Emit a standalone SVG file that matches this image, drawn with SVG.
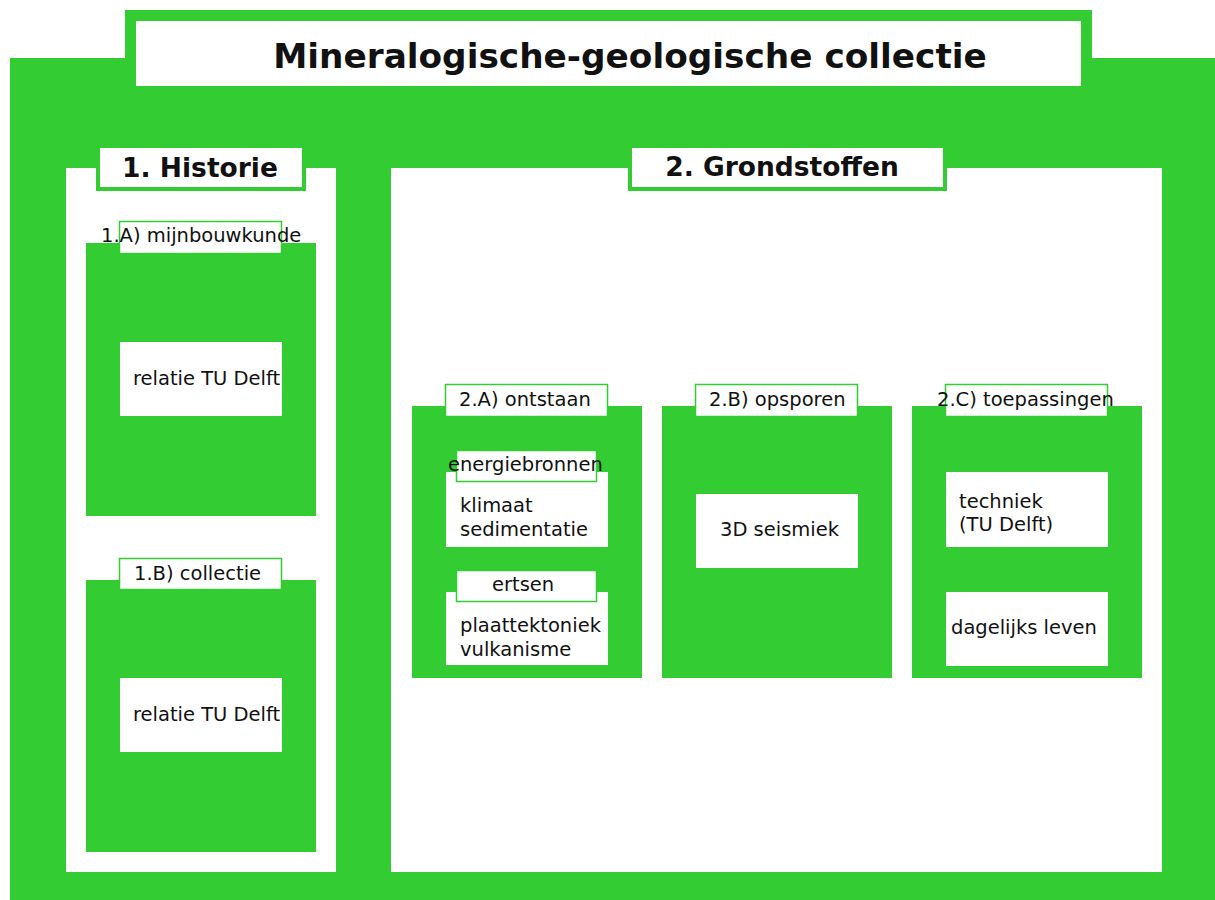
<svg xmlns="http://www.w3.org/2000/svg" width="1215" height="900" viewBox="0 0 1215 900">
<style>
.g{fill:#33cc33}
.w{fill:#ffffff}
.hdr{fill:#ffffff;stroke:#33cc33;stroke-width:4}
.lbl{fill:#ffffff;stroke:#33cc33;stroke-width:1.5}
text{font-family:"DejaVu Sans","Liberation Sans",sans-serif;fill:#111111}
.t1{font-size:34.3px;font-weight:bold;text-anchor:middle}
.t2{font-size:26.5px;font-weight:bold;text-anchor:middle}
.t3{font-size:19.5px}
</style>
<rect width="1215" height="900" fill="#ffffff"/>
<g id="background">
<path class="g" d="M125 10H1092V58H1215V900H10V58H125Z"/>
</g>
<g id="title">
<rect class="w" x="136" y="21" width="945" height="65"/>
<text class="t1" x="630" y="68">Mineralogische-geologische collectie</text>
</g>
<g id="historie">
<rect class="w" x="66" y="168" width="270" height="704"/>
<rect class="hdr" x="98" y="146" width="206" height="43"/>
<text class="t2" x="200" y="177">1. Historie</text>
</g>
<g id="grondstoffen">
<rect class="w" x="391" y="168" width="771" height="704"/>
<rect class="hdr" x="630" y="146" width="315" height="43"/>
<text class="t2" x="782" y="176">2. Grondstoffen</text>
</g>
<g id="mijnbouwkunde">
<rect class="g" x="86" y="243" width="230" height="273"/>
<rect class="lbl" x="119.5" y="221.5" width="162" height="32"/>
<text class="t3" x="101" y="242">1.A) mijnbouwkunde</text>
<rect class="w" x="120" y="342" width="162" height="74"/>
<text class="t3" x="133" y="385">relatie TU Delft</text>
</g>
<g id="collectie">
<rect class="g" x="86" y="580" width="230" height="272"/>
<rect class="lbl" x="119.5" y="558.5" width="162" height="31"/>
<text class="t3" x="134" y="580">1.B) collectie</text>
<rect class="w" x="120" y="678" width="162" height="74"/>
<text class="t3" x="133" y="721">relatie TU Delft</text>
</g>
<g id="ontstaan">
<rect class="g" x="412" y="406" width="230" height="272"/>
<rect class="lbl" x="445.5" y="384.5" width="162" height="32"/>
<text class="t3" x="459" y="406">2.A) ontstaan</text>
<rect class="w" x="446" y="472" width="162" height="75"/>
<rect class="lbl" x="456.5" y="450.5" width="140" height="31"/>
<text class="t3" x="448" y="471">energiebronnen</text>
<text class="t3" x="460" y="512">klimaat</text>
<text class="t3" x="460" y="536">sedimentatie</text>
<rect class="w" x="446" y="592" width="162" height="73"/>
<rect class="lbl" x="456.5" y="570.5" width="140" height="31"/>
<text class="t3" x="492" y="591">ertsen</text>
<text class="t3" x="460" y="632">plaattektoniek</text>
<text class="t3" x="460" y="656">vulkanisme</text>
</g>
<g id="opsporen">
<rect class="g" x="662" y="406" width="230" height="272"/>
<rect class="lbl" x="695.5" y="384.5" width="162" height="32"/>
<text class="t3" x="709" y="406">2.B) opsporen</text>
<rect class="w" x="696" y="494" width="162" height="74"/>
<text class="t3" x="720" y="536">3D seismiek</text>
</g>
<g id="toepassingen">
<rect class="g" x="912" y="406" width="230" height="272"/>
<rect class="lbl" x="945.5" y="384.5" width="162" height="32"/>
<text class="t3" x="937" y="406">2.C) toepassingen</text>
<rect class="w" x="946" y="472" width="162" height="75"/>
<text class="t3" x="959" y="508">techniek</text>
<text class="t3" x="959" y="531">(TU Delft)</text>
<rect class="w" x="946" y="592" width="162" height="74"/>
<text class="t3" x="951" y="634">dagelijks leven</text>
</g>
<g id="connectors"/>
</svg>
